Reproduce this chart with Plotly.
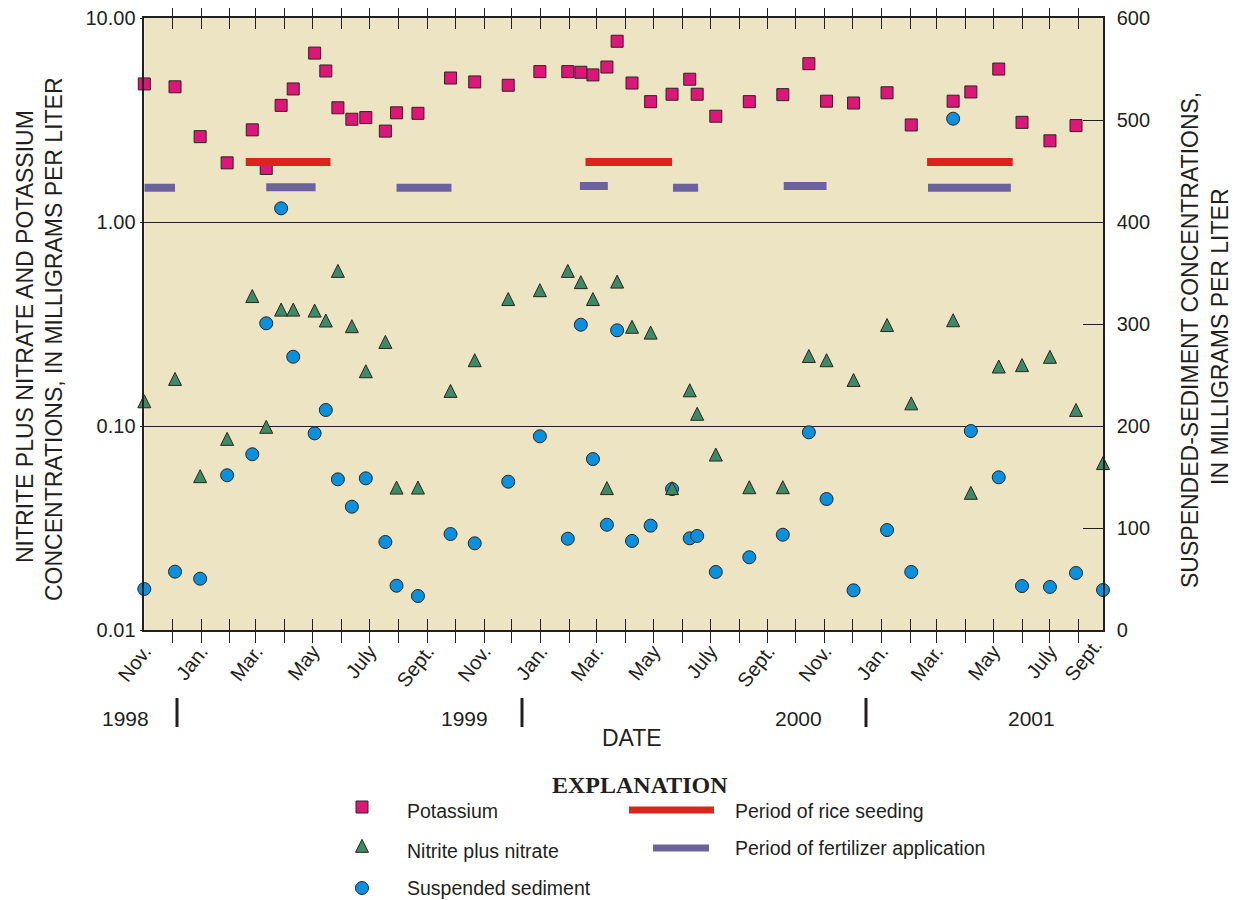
import plotly.graph_objects as go

# ---------------- data ----------------
dates = [
    "1998-11-01", "1998-12-04", "1998-12-31", "1999-01-29", "1999-02-25",
    "1999-03-12", "1999-03-28", "1999-04-10", "1999-05-03", "1999-05-15",
    "1999-05-28", "1999-06-12", "1999-06-27", "1999-07-18", "1999-07-30",
    "1999-08-22", "1999-09-26", "1999-10-22", "1999-11-27", "1999-12-31",
    "2000-01-30", "2000-02-13", "2000-02-26", "2000-03-12", "2000-03-23",
    "2000-04-08", "2000-04-28", "2000-05-21", "2000-06-09", "2000-06-17",
    "2000-07-07", "2000-08-12", "2000-09-17", "2000-10-15", "2000-11-03",
    "2000-12-02", "2001-01-07", "2001-02-02", "2001-03-19", "2001-04-07",
    "2001-05-07", "2001-06-01", "2001-07-01", "2001-07-29", "2001-08-27",
]
potassium = [
    4.75, 4.60, 2.62, 1.95, 2.83, 1.83, 3.73, 4.49, 6.73, 5.50,
    3.63, 3.19, 3.25, 2.79, 3.43, 3.41, 5.08, 4.86, 4.68, 5.46,
    5.46, 5.42, 5.26, 5.75, 7.69, 4.80, 3.89, 4.23, 5.01, 4.23,
    3.30, 3.89, 4.21, 5.97, 3.91, 3.83, 4.30, 2.99, 3.91, 4.34,
    5.62, 3.08, 2.50, 2.97, None,
]
nitrite_nitrate = [
    0.129, 0.166, 0.0554, 0.0844, 0.423, 0.0967, 0.363, 0.363, 0.359, 0.321,
    0.562, 0.301, 0.181, 0.252, 0.0487, 0.0487, 0.145, 0.205, 0.409, 0.452,
    0.562, 0.495, 0.409, 0.0484, 0.498, 0.299, 0.280, 0.0484, 0.146, 0.112,
    0.0707, 0.0489, 0.0489, 0.215, 0.205, 0.164, 0.305, 0.126, 0.322, 0.0459,
    0.191, 0.194, 0.213, 0.117, 0.0642,
]
suspended_sediment = [
    40.2, 57.2, 50.3, 151.7, 172.3, 300.7, 413.4, 267.9, 192.8, 215.7,
    147.7, 120.9, 148.7, 86.3, 43.4, 33.3, 94.1, 85.0, 145.4, 189.9,
    89.5, 299.3, 167.6, 103.2, 293.8, 87.3, 102.3, 138.2, 89.9, 92.2,
    56.9, 71.3, 93.4, 193.8, 128.4, 38.9, 98.0, 56.9, 501.3, 195.1,
    149.7, 43.1, 42.2, 55.9, 39.2,
]

rice_start = ["1999-02-18", "2000-02-18", "2001-02-19"]
rice_end = ["1999-05-20", "2000-05-21", "2001-05-22"]
rice_level = [1.97, 1.97, 1.97]

fert_start = ["1998-11-01", "1999-03-12", "1999-07-30", "2000-02-12",
              "2000-05-22", "2000-09-18", "2001-02-20"]
fert_end = ["1998-12-04", "1999-05-04", "1999-09-27", "2000-03-13",
            "2000-06-18", "2000-11-03", "2001-05-20"]
fert_level = [1.47, 1.48, 1.47, 1.50, 1.47, 1.50, 1.47]

month_ticks = []
for yr, mo in [(1998, 11), (1998, 12)] + [(y, m) for y in (1999, 2000) for m in range(1, 13)] + [(2001, m) for m in range(1, 9)]:
    month_ticks.append(f"{yr}-{mo:02d}-01")
month_names = {1: "Jan.", 3: "Mar.", 5: "May", 7: "July", 9: "Sept.", 11: "Nov."}
month_labels = [month_names.get(int(t[5:7]), "") for t in month_ticks]

left_ticks = [0.01, 0.1, 1, 10]
left_labels = ["0.01", "0.10", "1.00", "10.00"]
right_ticks = [0, 100, 200, 300, 400, 500, 600]

year_labels = ["1998", "1999", "2000", "2001"]

# ---------------- style ----------------
FONT = "Liberation Sans, Arial, Helvetica, sans-serif"
BG = "#EDE4C3"
INK = "#231f20"
K_COLOR = "#DD1679"
N_COLOR = "#3F8A66"
S_COLOR = "#0A90DC"
RICE = "#D9261C"
FERT = "#6B629E"
EDGE = dict(color="#2b2522", width=1)

# page body has an 8px margin: the figure sits at (8, 8)
OX, OY = 8, 8
W, H = 1230, 892
PL, PR, PT, PB = 144.3, 1103.0, 18.0, 630.0


def px(x):
    return (x - OX) / W


def py(y):
    return 1 - (y - OY) / H


TRI = dict(symbol="arrow-down", angle=180, standoff=8.67, size=13)

fig = go.Figure()

# suspended sediment (linear right axis, primary y)
fig.add_trace(go.Scatter(
    x=dates, y=suspended_sediment, mode="markers", name="Suspended sediment",
    xaxis="x", yaxis="y", cliponaxis=False,
    marker=dict(symbol="circle", size=13, color=S_COLOR, line=EDGE),
))
# nitrite plus nitrate (log left axis)
fig.add_trace(go.Scatter(
    x=dates, y=nitrite_nitrate, mode="markers", name="Nitrite plus nitrate",
    xaxis="x", yaxis="y2", cliponaxis=False,
    marker=dict(color=N_COLOR, line=EDGE, **TRI),
))
# potassium
fig.add_trace(go.Scatter(
    x=dates, y=potassium, mode="markers", name="Potassium",
    xaxis="x", yaxis="y2", cliponaxis=False,
    marker=dict(symbol="square", size=12, color=K_COLOR, line=EDGE),
))
# periods
for s, e, v in zip(fert_start, fert_end, fert_level):
    fig.add_trace(go.Scatter(x=[s, e], y=[v, v], mode="lines", xaxis="x", yaxis="y2",
                             line=dict(color=FERT, width=8), hoverinfo="skip"))
for s, e, v in zip(rice_start, rice_end, rice_level):
    fig.add_trace(go.Scatter(x=[s, e], y=[v, v], mode="lines", xaxis="x", yaxis="y2",
                             line=dict(color=RICE, width=8), hoverinfo="skip"))

# legend key markers (a separate, invisible pixel-mapped subplot under the chart)
LEG_TOP = 645
for sym, yy in [(dict(symbol="square", size=12, color=K_COLOR), 807),
                (dict(color=N_COLOR, **TRI), 848),
                (dict(symbol="circle", size=13, color=S_COLOR), 888)]:
    fig.add_trace(go.Scatter(
        x=[362], y=[yy], mode="markers", xaxis="x3", yaxis="y3",
        hoverinfo="skip", marker=dict(line=EDGE, **sym),
    ))

axis_line = dict(showline=True, linecolor=INK, linewidth=1.5)

fig.update_layout(
    width=W, height=H, template="none",
    margin=dict(l=0, r=0, t=0, b=0),
    paper_bgcolor="white", plot_bgcolor="white",
    showlegend=False,
    font=dict(family=FONT, color=INK, size=20),
    xaxis=dict(
        type="date", range=["1998-11-01", "2001-08-27"],
        domain=[px(PL), px(PR)], anchor="y",
        tickmode="array", tickvals=month_ticks, ticktext=month_labels,
        ticks="inside", ticklen=11, tickwidth=1.2, tickcolor=INK,
        mirror="allticks", tickangle=-52, tickfont=dict(size=20),
        ticklabeloverflow="allow",
        showgrid=False, zeroline=False, **axis_line,
    ),
    yaxis=dict(
        range=[0, 600], domain=[py(PB), py(PT)], anchor="x", side="right",
        tickmode="array", tickvals=right_ticks,
        ticks="inside", ticklen=20, tickwidth=1.2, tickcolor=INK,
        ticklabelstandoff=8, tickfont=dict(size=20), ticklabeloverflow="allow",
        showgrid=False, zeroline=False, mirror=True, **axis_line,
    ),
    yaxis2=dict(
        type="log", range=[-2, 1], overlaying="y", side="left", anchor="x",
        tickmode="array", tickvals=left_ticks, ticktext=left_labels,
        ticks="outside", ticklen=3, tickwidth=1.2, tickcolor=INK,
        tickfont=dict(size=20), ticklabeloverflow="allow",
        showgrid=True, gridcolor=INK, gridwidth=1.3, zeroline=False,
        mirror=True, **axis_line,
    ),
    xaxis3=dict(domain=[0, 1], range=[OX, OX + W], visible=False, anchor="y3",
                fixedrange=True),
    yaxis3=dict(domain=[0, py(LEG_TOP)], range=[OY + H, LEG_TOP], visible=False,
                anchor="x3", fixedrange=True),
)

ann = []
# axis titles
ann.append(dict(text="NITRITE PLUS NITRATE AND POTASSIUM", x=px(25), y=py(337),
                textangle=-90, font=dict(size=23)))
ann.append(dict(text="CONCENTRATIONS, IN MILLIGRAMS PER LITER", x=px(54), y=py(339),
                textangle=-90, font=dict(size=23)))
ann.append(dict(text="SUSPENDED-SEDIMENT CONCENTRATIONS,", x=px(1190), y=py(340),
                textangle=-90, font=dict(size=23)))
ann.append(dict(text="IN MILLIGRAMS PER LITER", x=px(1220), y=py(337),
                textangle=-90, font=dict(size=23)))
# last month label at the right edge
ann.append(dict(text="Sept.", x=px(PR + 6), y=py(PB + 2), xanchor="right", yanchor="top",
                textangle=-52, font=dict(size=20)))
# year labels and date title
for t, xx in zip(year_labels, [125, 464, 798, 1031]):
    ann.append(dict(text=t, x=px(xx), y=py(718), font=dict(size=21)))
ann.append(dict(text="DATE", x=px(632), y=py(738), font=dict(size=23)))
# explanation
ann.append(dict(text="<b>EXPLANATION</b>", x=px(640), y=py(785),
                font=dict(size=24, family="Liberation Serif, Times New Roman, serif")))
for t, xx, yy in [("Potassium", 405, 811), ("Nitrite plus nitrate", 405, 851),
                  ("Suspended sediment", 405, 888), ("Period of rice seeding", 733, 811),
                  ("Period of fertilizer application", 733, 848)]:
    ann.append(dict(text=t, x=px(xx), y=py(yy), xanchor="left", font=dict(size=19.5)))

for a in ann:
    a.setdefault("xanchor", "center")
    a.setdefault("yanchor", "middle")
    a.update(xref="paper", yref="paper", showarrow=False)
fig.update_layout(annotations=ann)

shapes = [dict(type="rect", xref="x domain", yref="y domain", x0=0, x1=1, y0=0, y1=1,
               fillcolor=BG, line=dict(width=0), layer="below")]
for xx in [177, 522, 866]:
    shapes.append(dict(type="line", xref="paper", yref="paper", x0=px(xx), x1=px(xx),
                       y0=py(698), y1=py(727), line=dict(color=INK, width=3)))
shapes.append(dict(type="line", xref="paper", yref="paper", x0=px(629), x1=px(714),
                   y0=py(810), y1=py(810), line=dict(color=RICE, width=7)))
shapes.append(dict(type="line", xref="paper", yref="paper", x0=px(653), x1=px(709),
                   y0=py(848), y1=py(848), line=dict(color=FERT, width=7)))
fig.update_layout(shapes=shapes)

fig.write_html("out.html")
